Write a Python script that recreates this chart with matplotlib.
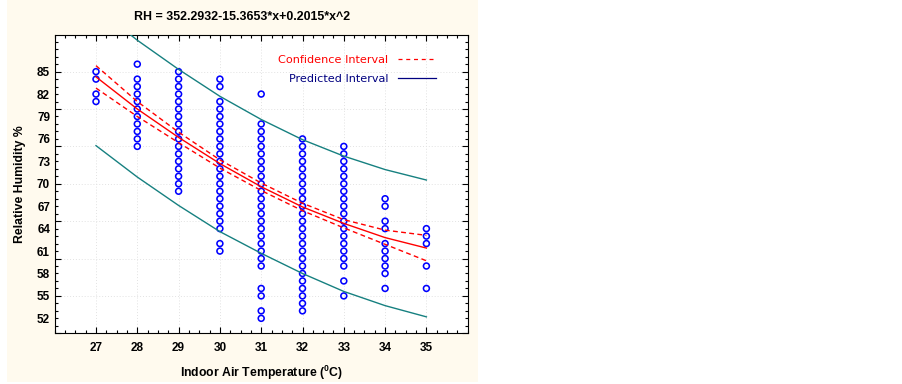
import numpy as np
import matplotlib.pyplot as plt
from matplotlib.lines import Line2D
from matplotlib.patches import Rectangle
from matplotlib.ticker import MultipleLocator

plt.rcParams['font.family'] = ['Liberation Sans', 'DejaVu Sans']
plt.rcParams['font.weight'] = 'bold'
plt.rcParams['axes.labelweight'] = 'bold'
plt.rcParams['mathtext.fontset'] = 'custom'
plt.rcParams['mathtext.rm'] = 'Liberation Sans:bold'
plt.rcParams['mathtext.bf'] = 'Liberation Sans:bold'

# Datos
temps = [27, 28, 29, 30, 31, 32, 33, 34, 35]

rh_27 = [85, 84, 82, 81]
rh_28 = [86, 84, 83, 82, 81, 80, 79, 78, 77, 76, 75]
rh_29 = [85, 84, 83, 82, 81, 80, 79, 78, 77, 76, 75, 74, 73, 72, 71, 70, 69]
rh_30 = [84, 83, 81, 80, 79, 78, 77, 76, 75, 74, 73, 72, 71, 70, 69, 68, 67,
         66, 65, 64, 62, 61]
rh_31 = [82, 78, 77, 76, 75, 74, 73, 72, 71, 70, 69, 68, 67, 66, 65, 64, 63,
         62, 61, 60, 59, 56, 55, 53, 52]
rh_32 = [76, 75, 74, 73, 72, 71, 70, 69, 68, 67, 66, 65, 64, 63, 62, 61, 60,
         59, 58, 57, 56, 55, 54, 53]
rh_33 = [75, 74, 73, 72, 71, 70, 69, 68, 67, 66, 65, 64, 63, 62, 61, 60, 59,
         57, 55]
rh_34 = [68, 67, 65, 64, 62, 61, 60, 59, 58, 56]
rh_35 = [64, 63, 62, 59, 56]

# Curvas (ajuste, intervalo de confianza, intervalo de prediccion)
fit_rh = [84.3, 80.0, 76.2, 72.7, 69.6, 66.9, 64.7, 62.8, 61.4]
ci_up = [85.8, 81.0, 76.9, 73.2, 70.1, 67.4, 65.2, 63.8, 63.1]
ci_lo = [82.8, 79.0, 75.5, 72.1, 69.1, 66.4, 64.1, 61.9, 59.7]
pi_up = [93.6, 89.2, 85.3, 81.7, 78.6, 75.9, 73.7, 71.9, 70.5]
pi_lo = [75.1, 70.9, 67.1, 63.6, 60.7, 58.0, 55.6, 53.7, 52.2]

x_labels = [27, 28, 29, 30, 31, 32, 33, 34, 35]
y_labels = [52, 55, 58, 61, 64, 67, 70, 73, 76, 79, 82, 85]

columnas = [rh_27, rh_28, rh_29, rh_30, rh_31, rh_32, rh_33, rh_34, rh_35]
xs = np.concatenate([[t] * len(c) for t, c in zip(temps, columnas)])
ys = np.concatenate(columnas)

##############################################################################
# GRAFICACION
fig = plt.figure(figsize=(9.02, 3.84), dpi=100)
fig.add_artist(Rectangle((7 / 902, 2 / 384), 471 / 902, 382 / 384,
                         transform=fig.transFigure, facecolor='#fffaee',
                         edgecolor='none', zorder=0))
ax = fig.add_axes([54.7 / 902, 1 - 333.3 / 384, 413 / 902, 298.3 / 384])

ax.scatter(xs, ys, s=18, facecolors='none', edgecolors='#0000ff',
           linewidths=1.15, zorder=3)
ax.plot(temps, pi_up, color='#168080', lw=1.0, zorder=4)
ax.plot(temps, pi_lo, color='#168080', lw=1.0, zorder=4)
ax.plot(temps, fit_rh, color='#ff0000', lw=1.0, zorder=5)
ax.plot(temps, ci_up, color='#ff0000', lw=1.0, ls=(0, (3.5, 2.4)), zorder=5)
ax.plot(temps, ci_lo, color='#ff0000', lw=1.0, ls=(0, (3.5, 2.4)), zorder=5)

ax.set_xlim(26, 36)
ax.set_ylim(50, 89.9)
ax.set_xticks(x_labels)
ax.xaxis.set_minor_locator(MultipleLocator(0.25))
ax.yaxis.set_major_locator(MultipleLocator(5))
ax.yaxis.set_minor_locator(MultipleLocator(1))
ax.tick_params(which='both', direction='in', top=True, right=True,
               labelleft=False, width=0.8)
ax.tick_params(which='major', length=4)
ax.tick_params(which='minor', length=2)
ax.tick_params(axis='x', labelsize=8.5, pad=6.5)
ax.grid(True, which='major', color='#e2e2e2', ls=(0, (1, 2)), lw=0.7)
ax.set_axisbelow(True)
for s in ax.spines.values():
    s.set_linewidth(0.8)

# etiquetas del eje y cada 3 unidades
sec = ax.secondary_yaxis('left')
sec.set_yticks(y_labels)
sec.tick_params(length=0, pad=3.3, labelsize=8.5)
sec.spines['left'].set_visible(False)

ax.set_xlabel('Indoor Air Temperature ($^{0}$C)', fontsize=8.8,
              fontweight='bold')
ax.xaxis.set_label_coords(0.5, -0.103)
fig.text(20 / 902, 1 - 184 / 384, 'Relative Humidity %', fontsize=8.8,
         rotation=90, ha='center', va='center')
fig.text(242.5 / 902, 1 - 17 / 384, 'RH = 352.2932-15.3653*x+0.2015*x^2',
         fontsize=8.9, ha='center', va='center')

handles = [Line2D([], [], color='#ff0000', lw=0.9, ls=(0, (3.2, 3.0))),
           Line2D([], [], color='#000080', lw=0.9)]
ax.legend(handles, ['Confidence Interval', 'Predicted Interval'],
          loc='upper right', bbox_to_anchor=(0.923, 0.933), frameon=False,
          markerfirst=False, prop={'family': 'DejaVu Sans', 'size': 8.1,
                                   'weight': 'normal'},
          handlelength=3.4, handletextpad=0.85, labelspacing=0.8,
          borderpad=0, borderaxespad=0, labelcolor=['#ff0000', '#000080'])

plt.savefig('out.png', dpi=100)
